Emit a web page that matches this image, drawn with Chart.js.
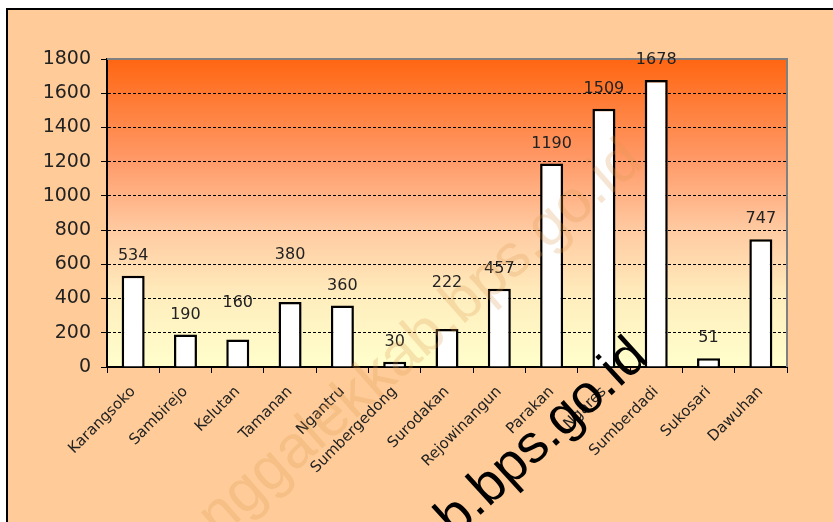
<!DOCTYPE html>
<html>
<head>
<meta charset="utf-8">
<script src="https://cdn.jsdelivr.net/npm/chart.js@4.4.0/dist/chart.umd.min.js"></script>
<style>
  html, body { margin: 0; padding: 0; background: #fff; }
  #wrap { width: 833px; height: 522px; }
</style>
</head>
<body>
<div id="wrap"><canvas id="myChart" width="833" height="522"></canvas></div>
<script>
const villages = [
  "Karangsoko", "Sambirejo", "Kelutan", "Tamanan", "Ngantru", "Sumbergedong",
  "Surodakan", "Rejowinangun", "Parakan", "Ngares", "Sumberdadi", "Sukosari", "Dawuhan"
];
const population = [534, 190, 160, 380, 360, 30, 222, 457, 1190, 1509, 1678, 51, 747];
const yTicks = [0, 200, 400, 600, 800, 1000, 1200, 1400, 1600, 1800];

// extra lift of some value labels, as in the original picture (px)
const labelLift = [0, 0, 17, 27, 0, 0, 26, 0, 0, 0, 0, 0, 0];

const FONT = "'DejaVu Sans', Arial, sans-serif";
const MARK_FONT = "'Liberation Sans', Arial, sans-serif";

const backdrop = {
  id: 'backdrop',
  beforeDraw(chart) {
    const { ctx, chartArea: a, width, height } = chart;
    ctx.save();
    ctx.fillStyle = '#ffffff';
    ctx.fillRect(0, 0, width, height);
    ctx.fillStyle = '#ffcc99';
    ctx.fillRect(7, 9, width - 7, height - 9);
    ctx.strokeStyle = '#000';
    ctx.lineWidth = 2;
    ctx.beginPath();
    ctx.moveTo(7, height);
    ctx.lineTo(7, 9);
    ctx.lineTo(width, 9);
    ctx.stroke();
    const g = ctx.createLinearGradient(0, a.top, 0, a.bottom);
    g.addColorStop(0, '#ff6612');
    g.addColorStop(0.33, '#ff9a68');
    g.addColorStop(0.55, '#ffc9a0');
    g.addColorStop(0.78, '#ffeebe');
    g.addColorStop(1, '#ffffcc');
    ctx.fillStyle = g;
    ctx.fillRect(a.left, a.top, a.right - a.left, a.bottom - a.top);
    ctx.restore();
  },
  beforeDatasetsDraw(chart) {
    const { ctx, chartArea: a } = chart;
    ctx.save();
    ctx.strokeStyle = '#808080';
    ctx.lineWidth = 2;
    ctx.beginPath();
    ctx.moveTo(a.left, a.top);
    ctx.lineTo(a.right, a.top);
    ctx.lineTo(a.right, a.bottom);
    ctx.stroke();
    ctx.restore();
  }
};

const valueLabels = {
  id: 'valueLabels',
  afterDatasetsDraw(chart) {
    const { ctx } = chart;
    const meta = chart.getDatasetMeta(0);
    ctx.save();
    ctx.font = '16px ' + FONT;
    ctx.fillStyle = '#222';
    ctx.textAlign = 'center';
    ctx.textBaseline = 'bottom';
    meta.data.forEach((bar, i) => {
      ctx.fillText(String(population[i]), bar.x, bar.y - 12 - labelLift[i]);
    });
    ctx.restore();
  }
};

const watermark = {
  id: 'watermark',
  afterDraw(chart) {
    const { ctx } = chart;
    ctx.save();
    ctx.font = '60px ' + MARK_FONT;
    ctx.fillStyle = 'rgba(220, 150, 80, 0.25)';
    ctx.textAlign = 'right';
    ctx.textBaseline = 'alphabetic';
    ctx.translate(645, 165);
    ctx.rotate(-0.72);
    ctx.fillText('trenggalekkab.bps.go.id', 0, 0);
    ctx.restore();

    ctx.save();
    ctx.font = '54px ' + MARK_FONT;
    ctx.fillStyle = '#000';
    ctx.textAlign = 'right';
    ctx.translate(650, 360);
    ctx.rotate(-0.74);
    ctx.fillText('trenggalekkab.bps.go.id', 0, 0);
    ctx.restore();
  }
};

const ctx = document.getElementById('myChart');

new Chart(ctx, {
  type: 'bar',
  data: {
    labels: villages,
    datasets: [
      {
        data: population,
        backgroundColor: '#ffffff',
        borderColor: '#000000',
        borderWidth: 2.5,
        borderSkipped: 'bottom',
        barPercentage: 0.44,
        categoryPercentage: 1,
      },
    ],
  },
  options: {
    responsive: false,
    animation: false,
    layout: {
      padding: { left: 0, top: 59, right: 46, bottom: 0 },
    },
    scales: {
      x: {
        afterFit(scale) { scale.height = 155; },
        grid: {
          offset: true,
          drawOnChartArea: false,
          color: '#000',
          tickLength: 6,
        },
        border: { color: '#000', width: 2 },
        ticks: {
          autoSkip: false,
          maxRotation: 45,
          minRotation: 45,
          color: '#222',
          padding: 10,
          font: { family: FONT, size: 15 },
        },
      },
      y: {
        min: 0,
        max: 1800,
        afterFit(scale) { scale.width = 107; },
        afterBuildTicks(scale) {
          scale.ticks = yTicks.map(v => ({ value: v }));
        },
        grid: {
          color: ctx => (ctx.tick && (ctx.tick.value === 0 || ctx.tick.value === 1800)) ? 'rgba(0,0,0,0)' : '#000',
          tickColor: '#000',
          tickLength: 6,
          lineWidth: 1,
        },
        border: { color: '#000', width: 2, dash: [3, 2] },
        ticks: {
          color: '#222',
          padding: 10,
          font: { family: FONT, size: 19 },
          callback: v => String(v),
        },
      },
    },
    plugins: {
      legend: { display: false },
      tooltip: { enabled: false },
    },
  },
  plugins: [backdrop, valueLabels, watermark],
});
</script>
</body>
</html>
